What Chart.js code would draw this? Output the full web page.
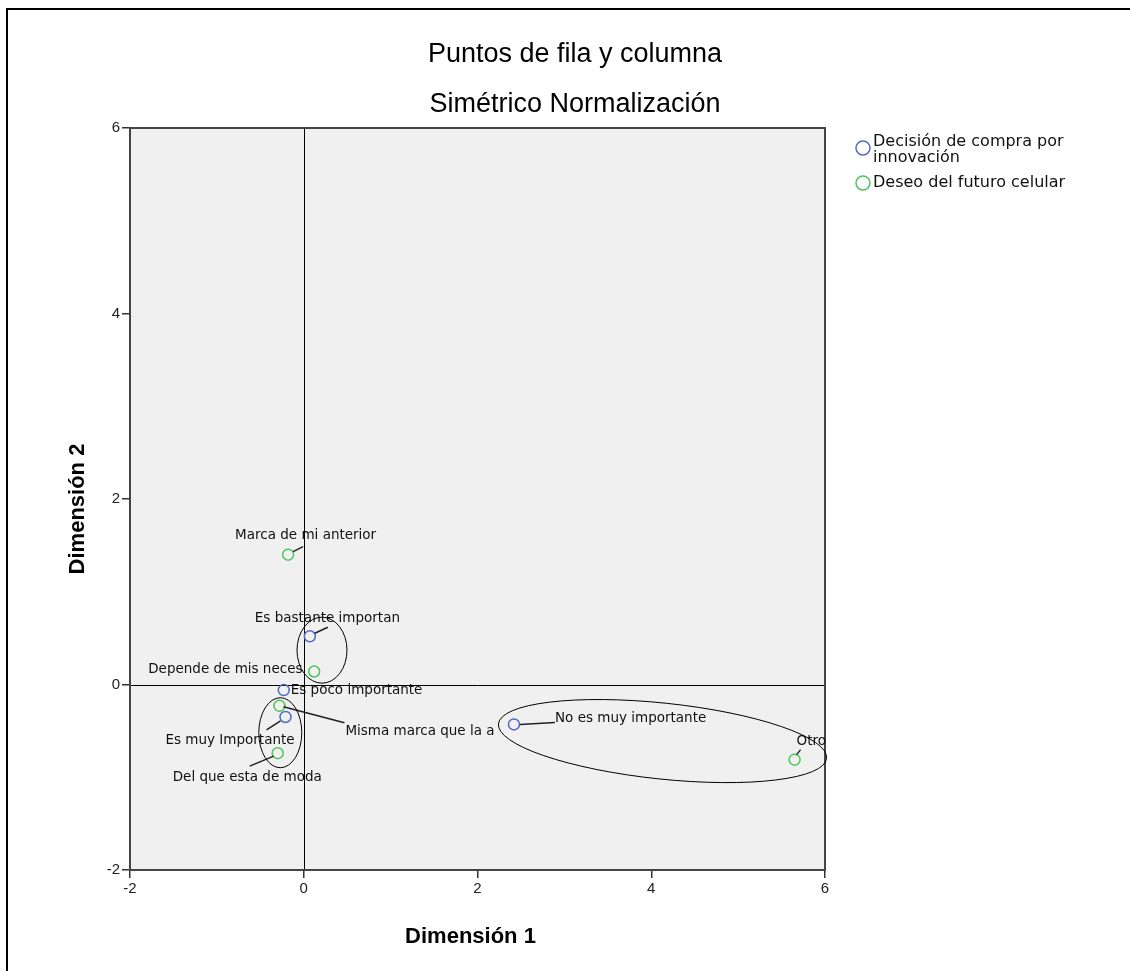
<!DOCTYPE html>
<html>
<head>
<meta charset="utf-8">
<script src="https://cdn.jsdelivr.net/npm/chart.js@4"></script>
<style>
  html, body { margin: 0; padding: 0; background: #fff; }
  #wrap { position: relative; width: 1130px; height: 971px; overflow: hidden; }
  #frame { position: absolute; left: 6px; top: 8px; width: 1200px; height: 1000px;
           border-left: 2px solid #000; border-top: 2px solid #000; box-sizing: border-box; }
  canvas { position: absolute; left: 0; top: 0; }
</style>
</head>
<body>
<div id="wrap">
  <div id="frame"></div>
  <canvas id="chart" width="1130" height="971"></canvas>
</div>
<script>
// Titles
const titleLines = ["Puntos de fila y columna", "Simétrico Normalización"];
const xTitle = "Dimensión 1";
const yTitle = "Dimensión 2";

// Series
const seriesNames = ["Decisión de compra por innovación", "Deseo del futuro celular"];
const legendLines = [["Decisión de compra por", "innovación"], ["Deseo del futuro celular"]];

// Row points (Decisión de compra por innovación)
const rowLabels = ["Es bastante importan", "Es poco importante", "Es muy Importante", "No es muy importante"];
const rowDim1 = [0.07, -0.23, -0.21, 2.42];
const rowDim2 = [0.52, -0.06, -0.35, -0.43];

// Column points (Deseo del futuro celular)
const colLabels = ["Marca de mi anterior", "Depende de mis neces", "Misma marca que la a", "Del que esta de moda", "Otro"];
const colDim1 = [-0.18, 0.12, -0.28, -0.30, 5.65];
const colDim2 = [1.40, 0.14, -0.23, -0.74, -0.81];

// Axis ticks
const xTicks = [-2, 0, 2, 4, 6];
const yTicks = [-2, 0, 2, 4, 6];

const blue = "#5468c4";
const green = "#4cc659";
const font = "'Liberation Sans', Arial, sans-serif";
const labelFont = "'DejaVu Sans', Verdana, sans-serif";

// label placement in pixels relative to each point: [textDx, textDy, lineX1, lineY1, lineX2, lineY2]
const rowPlace = [
  [-55, -18, 5, -3, 18, -9],
  [7, 0, null],
  [-120, 24, -19, 13, -5, 4],
  [41, -6, 6, 0, 41, -2]
];
const colPlace = [
  [-53, -19, 5, -3, 15, -8],
  [-166, -2, null],
  [66, 26, 4, 1, 65, 17],
  [-105, 24, -28, 13, -4, 3],
  [2, -18, 2, -5, 6, -10]
];

// ellipses drawn round groups: data centre, radii in px, rotation in degrees
const groupEllipses = [
  { x: 0.21, y: 0.37, rx: 25, ry: 33, rot: 0 },
  { x: -0.27, y: -0.52, rx: 21.5, ry: 35, rot: 0 },
  { x: 4.13, y: -0.61, rx: 165, ry: 38, rot: 6 }
];

const toPoints = (xs, ys) => xs.map((x, i) => ({ x: x, y: ys[i] }));

const plotDecor = {
  id: "plotDecor",
  beforeDraw(chart) {
    const a = chart.chartArea, ctx = chart.ctx;
    ctx.save();
    ctx.fillStyle = "#f0f0f0";
    ctx.fillRect(a.left, a.top, a.right - a.left, a.bottom - a.top);
    ctx.restore();
  },
  beforeDatasetsDraw(chart) {
    const a = chart.chartArea, ctx = chart.ctx;
    const xs = chart.scales.x, ys = chart.scales.y;
    ctx.save();
    ctx.strokeStyle = "#000";
    ctx.lineWidth = 1;
    const x0 = Math.round(xs.getPixelForValue(0)) + 0.5;
    const y0 = Math.round(ys.getPixelForValue(0)) + 0.5;
    ctx.beginPath();
    ctx.moveTo(x0, a.top); ctx.lineTo(x0, a.bottom);
    ctx.moveTo(a.left, y0); ctx.lineTo(a.right, y0);
    ctx.stroke();
    // frame
    ctx.strokeStyle = "#444";
    ctx.lineWidth = 2;
    ctx.strokeRect(a.left, a.top, a.right - a.left, a.bottom - a.top);
    ctx.restore();
  },
  afterDatasetsDraw(chart) {
    const ctx = chart.ctx;
    const xs = chart.scales.x, ys = chart.scales.y;
    ctx.save();
    ctx.font = "13.5px " + labelFont;
    ctx.textBaseline = "middle";
    ctx.fillStyle = "#111";
    ctx.strokeStyle = "#222";
    ctx.lineWidth = 1.5;
    const drawSet = (labels, dx, dy, place) => {
      labels.forEach((lab, i) => {
        const px = xs.getPixelForValue(dx[i]), py = ys.getPixelForValue(dy[i]);
        const p = place[i];
        if (p[2] !== null) {
          ctx.beginPath();
          ctx.moveTo(px + p[2], py + p[3]);
          ctx.lineTo(px + p[4], py + p[5]);
          ctx.stroke();
        }
        ctx.fillText(lab, px + p[0], py + p[1]);
      });
    };
    drawSet(rowLabels, rowDim1, rowDim2, rowPlace);
    drawSet(colLabels, colDim1, colDim2, colPlace);

    ctx.strokeStyle = "#000";
    ctx.lineWidth = 1;
    groupEllipses.forEach(e => {
      ctx.beginPath();
      ctx.ellipse(xs.getPixelForValue(e.x), ys.getPixelForValue(e.y), e.rx, e.ry, e.rot * Math.PI / 180, 0, Math.PI * 2);
      ctx.stroke();
    });
    ctx.restore();
  },
  afterDraw(chart) {
    const a = chart.chartArea, ctx = chart.ctx;
    ctx.save();
    ctx.fillStyle = "#000";
    ctx.textAlign = "center";
    ctx.textBaseline = "middle";
    ctx.font = "27px " + font;
    ctx.fillText(titleLines[0], 575, 55);
    ctx.fillText(titleLines[1], 575, 105);

    ctx.font = "bold 22px " + font;
    ctx.fillText(xTitle, (a.left + a.right) / 2 - 7, 937);
    ctx.save();
    ctx.translate(78, (a.top + a.bottom) / 2 + 10);
    ctx.rotate(-Math.PI / 2);
    ctx.fillText(yTitle, 0, 0);
    ctx.restore();

    // legend
    const colors = [blue, green];
    const legendY = [148, 183];
    ctx.textAlign = "left";
    ctx.font = "16px " + labelFont;
    ctx.lineWidth = 1.5;
    seriesNames.forEach((name, i) => {
      ctx.strokeStyle = colors[i];
      ctx.beginPath();
      ctx.arc(863, legendY[i], 7, 0, Math.PI * 2);
      ctx.stroke();
      ctx.fillStyle = "#111";
      const lines = legendLines[i];
      const startY = lines.length > 1 ? legendY[i] - 6 : legendY[i];
      lines.forEach((ln, j) => ctx.fillText(ln, 873, startY + j * 16));
    });
    ctx.restore();
  }
};

const ctx = document.getElementById("chart").getContext("2d");
const myChart = new Chart(ctx, {
  type: "scatter",
  data: {
    datasets: [
      {
        label: seriesNames[0],
        data: toPoints(rowDim1, rowDim2),
        pointRadius: 5.5,
        pointBorderWidth: 1.5,
        borderColor: blue,
        backgroundColor: "rgba(0,0,0,0)"
      },
      {
        label: seriesNames[1],
        data: toPoints(colDim1, colDim2),
        pointRadius: 5.5,
        pointBorderWidth: 1.5,
        borderColor: green,
        backgroundColor: "rgba(0,0,0,0)"
      }
    ]
  },
  options: {
    responsive: false,
    animation: false,
    layout: { padding: { left: 90, right: 305, top: 128, bottom: 61 } },
    plugins: {
      legend: { display: false },
      title: { display: false },
      tooltip: { enabled: false }
    },
    scales: {
      x: {
        type: "linear",
        min: -2,
        max: 6,
        afterBuildTicks: s => { s.ticks = xTicks.map(v => ({ value: v })); },
        afterFit: s => { s.height = 40; },
        grid: { drawOnChartArea: false, drawTicks: true, tickLength: 8, color: "#333", lineWidth: 1.5 },
        border: { display: false },
        ticks: { color: "#222", font: { family: font, size: 15 }, padding: 2 }
      },
      y: {
        type: "linear",
        min: -2,
        max: 6,
        afterBuildTicks: s => { s.ticks = yTicks.map(v => ({ value: v })); },
        afterFit: s => { s.width = 40; },
        grid: { drawOnChartArea: false, drawTicks: true, tickLength: 8, color: "#333", lineWidth: 1.5 },
        border: { display: false },
        ticks: { color: "#222", font: { family: font, size: 15 }, padding: 2 }
      }
    }
  },
  plugins: [plotDecor]
});
</script>
</body>
</html>
